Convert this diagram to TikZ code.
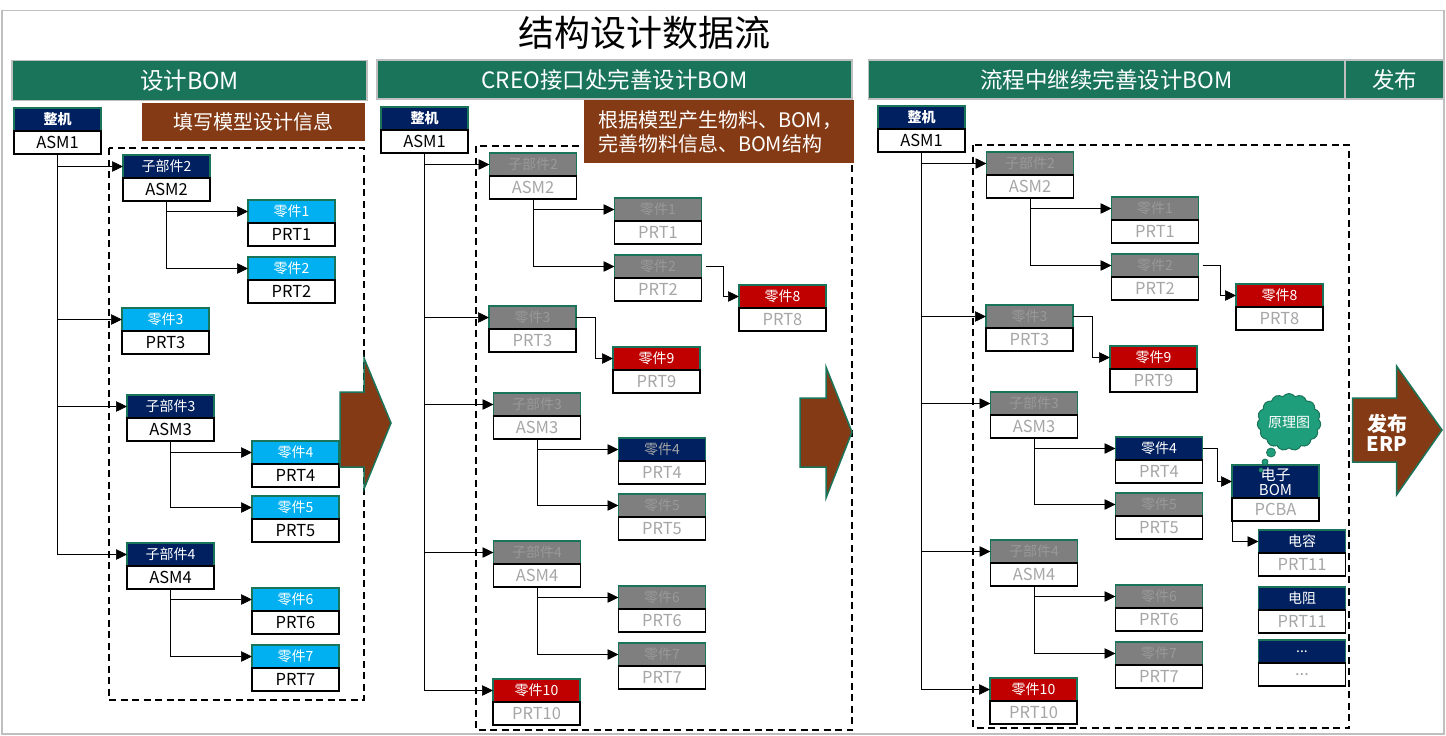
\documentclass[tikz,border=0pt]{standalone}
\usepackage{fontspec}
\setmainfont{Noto Sans CJK SC}
\usetikzlibrary{arrows.meta,shapes.symbols}
\definecolor{hgreen}{HTML}{19745A}
\definecolor{navyb}{HTML}{002060}
\definecolor{cyanb}{HTML}{00B0F0}
\definecolor{greyb}{HTML}{7F7F7F}
\definecolor{redb}{HTML}{C00000}
\definecolor{brownb}{HTML}{843A14}
\definecolor{framegrey}{HTML}{BFBFBF}
\definecolor{ghost}{HTML}{A6A6A6}
\definecolor{ghostd}{HTML}{999999}
\definecolor{cloudg}{HTML}{1F9E7C}
\newcommand{\fs}[1]{\fontsize{#1}{#1}\selectfont}
\tikzset{
  boxbase/.style={draw,line width=1.6pt,inner sep=0pt,outer sep=0pt,minimum width=87pt,minimum height=23pt,anchor=north west},
  navyt/.style={boxbase,draw=hgreen,fill=navyb,text=white,font=\fs{14}},
  navyg/.style={boxbase,draw=hgreen,fill=navyb,text=ghost,font=\fs{14}},
  cyant/.style={boxbase,draw=hgreen,fill=cyanb,text=white,font=\fs{14}},
  greyt/.style={boxbase,draw=hgreen,fill=greyb,text=ghostd,font=\fs{14}},
  redt/.style={boxbase,draw=hgreen,fill=redb,text=white,font=\fs{14}},
  blk/.style={boxbase,draw=black,fill=white,text=black,font=\fs{16.5}},
  gbk/.style={boxbase,draw=black,fill=white,text=ghost,font=\fs{16.5}},
  conn/.style={draw=black,line width=0.7pt,-{Triangle[length=11pt,width=10.5pt]}},
  header/.style={draw=framegrey,line width=1.5pt,fill=hgreen,text=white,font=\fs{22.5},inner sep=0pt,outer sep=0pt,anchor=north west},
  banner/.style={fill=brownb,text=white,font=\fs{20},inner sep=0pt,outer sep=0pt,anchor=north west},
  dashframe/.style={draw=black,line width=1.2pt,dash pattern=on 7pt off 4.5pt},
  bigarrow/.style={draw=hgreen,line width=1.5pt,fill=brownb,line join=miter},
}
% \bx{name}{x}{y}{top style}{bottom style}{top text}{bottom text}
\newcommand{\bx}[7]{%
  \node[#4] (#1) at ({#2},{#3}) {\raisebox{-1pt}{#6}};
  \node[#5] (#1b) at (#1.south west) {#7};
}
% shared tree for the second and third panels
\newcommand{\panelB}[4]{% prefix, xoff, yoff, style of part 4 top
  \bx{#1r}{#2+381}{#3+107}{navyt,font=\fs{14}\bfseries}{blk}{整机}{ASM1}
  \bx{#1a}{#2+489.5}{#3+153}{greyt}{gbk}{子部件2}{ASM2}
  \bx{#1c}{#2+614.5}{#3+198}{greyt}{gbk}{零件1}{PRT1}
  \bx{#1d}{#2+614.5}{#3+255}{greyt}{gbk}{零件2}{PRT2}
  \bx{#1h}{#2+739}{#3+285}{redt}{gbk}{零件8}{PRT8}
  \bx{#1e}{#2+489}{#3+306}{greyt}{gbk}{零件3}{PRT3}
  \bx{#1i}{#2+613}{#3+347}{redt}{gbk}{零件9}{PRT9}
  \bx{#1f}{#2+493.5}{#3+393}{greyt}{gbk}{子部件3}{ASM3}
  \bx{#1j}{#2+618.5}{#3+438}{#4}{gbk}{零件4}{PRT4}
  \bx{#1k}{#2+618.5}{#3+494}{greyt}{gbk}{零件5}{PRT5}
  \bx{#1g}{#2+493.5}{#3+541}{greyt}{gbk}{子部件4}{ASM4}
  \bx{#1l}{#2+618.5}{#3+586}{greyt}{gbk}{零件6}{PRT6}
  \bx{#1m}{#2+618.5}{#3+643}{greyt}{gbk}{零件7}{PRT7}
  \bx{#1n}{#2+493}{#3+679}{redt}{gbk}{零件10}{PRT10}
  \draw[conn] (#1rb.south) |- (#1a.west);
  \draw[conn] (#1rb.south) |- (#1e.west);
  \draw[conn] (#1rb.south) |- (#1f.west);
  \draw[conn] (#1rb.south) |- (#1g.west);
  \draw[conn] (#1rb.south) |- (#1n.west);
  \draw[conn] (#1ab.south) |- (#1c.west);
  \draw[conn] (#1ab.south) |- (#1d.west);
  \draw[conn] (#1fb.south) |- (#1j.west);
  \draw[conn] (#1fb.south) |- (#1k.west);
  \draw[conn] (#1gb.south) |- (#1l.west);
  \draw[conn] (#1gb.south) |- (#1m.west);
  \draw[conn] ([xshift=4pt]#1d.east) -- ++(18,0) |- (#1h.west);
  \draw[conn] (#1e.east) -- ++(19,0) |- (#1i.west);
}
\begin{document}
\begin{tikzpicture}[x=1pt,y=-1pt]
\useasboundingbox (0,0) rectangle (1446,736);
\draw[framegrey,line width=1.5pt] (2,10.5) rectangle (1444,734);
\node[font=\fs{36}] (title) at (644,33) {结构设计数据流};

% headers
\node[header,font=\fs{23.5},minimum width=355pt,minimum height=40pt] (h1) at (12,60.5) {设计BOM};
\node[header,minimum width=475pt,minimum height=39pt] (h2) at (377,60) {CREO接口处完善设计BOM};
\node[header,minimum width=476pt,minimum height=39pt] (h3) at (868.5,60) {流程中继续完善设计BOM};
\node[header,minimum width=99pt,minimum height=39pt] (h4) at (1345,60) {发布};

% dashed frames
\draw[dashframe] (109,148) rectangle (364,700);
\draw[dashframe] (476,146) rectangle (852,730);
\draw[dashframe] (973,145) rectangle (1349,728);

% banners
\node[banner,minimum width=223pt,minimum height=38pt] (b1) at (142,103) {\raisebox{-1pt}{填写模型设计信息}};
\node[banner,minimum width=270pt,minimum height=63pt,align=left,text width=258pt] (b2) at (584,100)
  {\fontsize{20}{20}\selectfont \hspace{8pt}根据模型产生物料、BOM，\\[4pt] \hspace{8pt}完善物料信息、BOM结构};

% panel 1
\bx{r}{14}{108}{navyt,font=\fs{14}\bfseries}{blk}{整机}{ASM1}
\bx{a}{123}{155}{navyt}{blk}{子部件2}{ASM2}
\bx{c}{248}{200}{cyant}{blk}{零件1}{PRT1}
\bx{d}{248}{257}{cyant}{blk}{零件2}{PRT2}
\bx{e}{122}{308}{cyant}{blk}{零件3}{PRT3}
\bx{f}{127}{395}{navyt}{blk}{子部件3}{ASM3}
\bx{j}{252}{441}{cyant}{blk}{零件4}{PRT4}
\bx{k}{252}{496}{cyant}{blk}{零件5}{PRT5}
\bx{g}{127}{543}{navyt}{blk}{子部件4}{ASM4}
\bx{l}{252}{588}{cyant}{blk}{零件6}{PRT6}
\bx{m}{252}{645}{cyant}{blk}{零件7}{PRT7}
\draw[conn] (rb.south) |- (a.west);
\draw[conn] (rb.south) |- (e.west);
\draw[conn] (rb.south) |- (f.west);
\draw[conn] (rb.south) |- (g.west);
\draw[conn] (ab.south) |- (c.west);
\draw[conn] (ab.south) |- (d.west);
\draw[conn] (fb.south) |- (j.west);
\draw[conn] (fb.south) |- (k.west);
\draw[conn] (gb.south) |- (l.west);
\draw[conn] (gb.south) |- (m.west);

% panels 2 and 3
\panelB{s}{0}{0}{navyg}
\panelB{t}{497}{-1}{navyt}

% electronic BOM
\node[boxbase,draw=hgreen,fill=navyb,text=white,font=\fs{15},minimum height=33pt,align=center] (ebom) at (1232,465)
  {\fontsize{15}{16.5}\selectfont 电子\\ BOM};
\node[gbk] (ebomb) at (ebom.south west) {PCBA};
\bx{cap}{1258.5}{530}{navyt}{gbk}{电容}{PRT11}
\bx{res}{1258.5}{587}{navyt}{gbk}{电阻}{PRT11}
\bx{etc}{1258.5}{640}{navyt}{gbk}{...}{...}
\draw[conn] (tj.east) -- ++(15,0) |- (ebom.west);
\draw[conn] (ebomb.west) |- (cap.west);

% thought cloud
\node[cloud,cloud puffs=15,cloud puff arc=110,aspect=1.15,draw=hgreen,line width=1pt,fill=cloudg,text=white,
  font=\fs{14},inner sep=0pt,minimum width=62pt,minimum height=54pt] (cl) at (1289,422) {原理图};
\node[circle,draw=hgreen,line width=0.8pt,fill=cloudg,minimum size=9pt,inner sep=0pt] (c1) at (1271,452.5) {};
\node[circle,draw=hgreen,line width=0.8pt,fill=cloudg,minimum size=6pt,inner sep=0pt] (c2) at (1265,462) {};
\node[circle,draw=hgreen,line width=0.8pt,fill=cloudg,minimum size=4pt,inner sep=0pt] (c3) at (1261,470) {};

% big arrows
\draw[bigarrow] (340,392) -- (364,392) -- (364,358) -- (391,423) -- (364,489) -- (364,467) -- (340,467) -- cycle;
\draw[bigarrow] (800,398) -- (826,398) -- (826,367) -- (852,432) -- (826,498) -- (826,467) -- (800,467) -- cycle;
\draw[bigarrow] (1352.5,398) -- (1396.5,398) -- (1396.5,366) -- (1442,430) -- (1396.5,495) -- (1396.5,462) -- (1352.5,462) -- cycle;
\node[text=white,font=\fs{20}\bfseries,align=center] (erp) at (1387,433) {\fontsize{20}{24}\selectfont 发布\\ ERP};
\end{tikzpicture}
\end{document}
